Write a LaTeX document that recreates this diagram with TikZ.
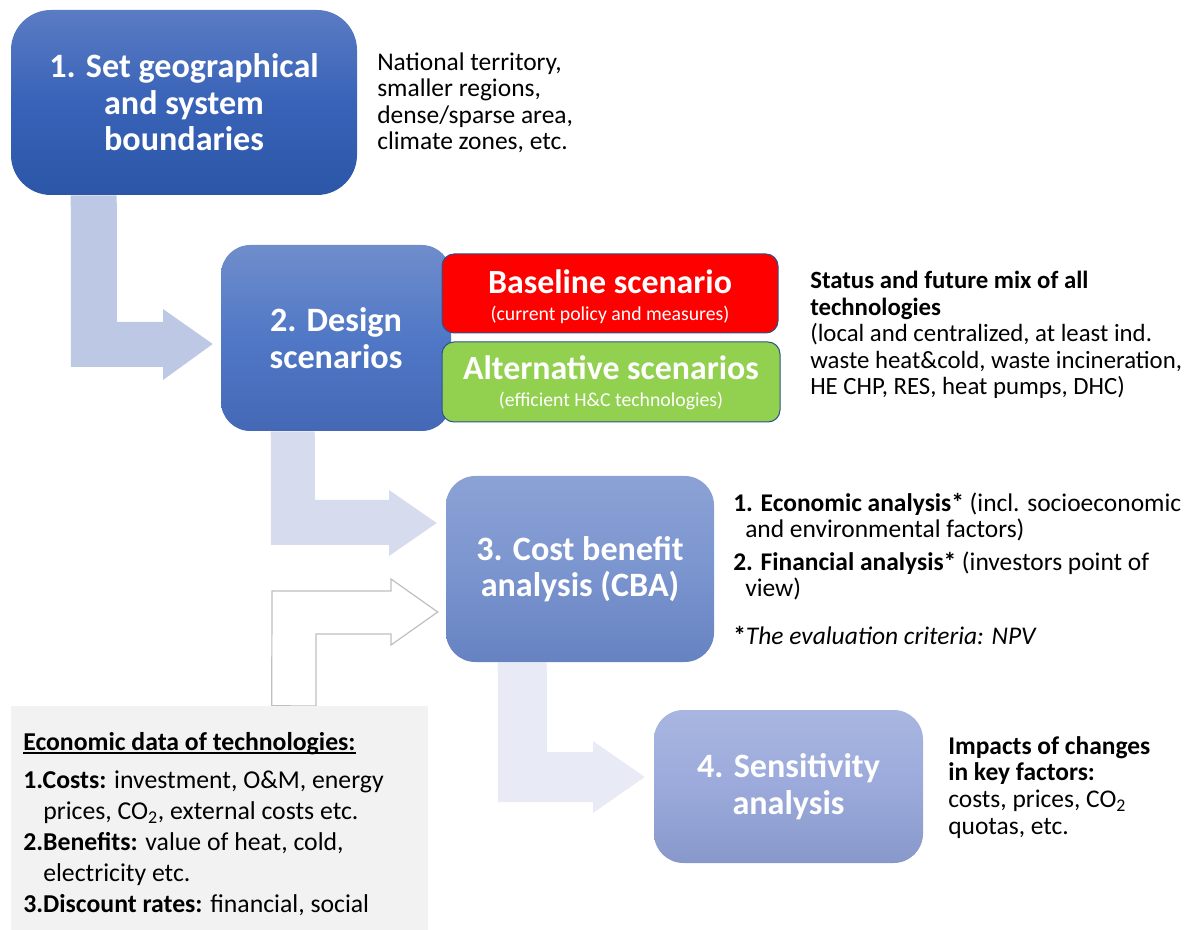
\documentclass[tikz,border=0pt]{standalone}
\usepackage{fontspec}
\setmainfont{Carlito}
\usetikzlibrary{fit,calc}

% step boxes: top / middle / bottom of the vertical gradient
\definecolor{oneTop}{HTML}{5B7BC3}
\definecolor{oneMid}{HTML}{3863B8}
\definecolor{oneBot}{HTML}{2C56A6}
\definecolor{twoTop}{HTML}{6F8DCB}
\definecolor{twoMid}{HTML}{5078C6}
\definecolor{twoBot}{HTML}{4468B6}
\definecolor{threeTop}{HTML}{8CA2D5}
\definecolor{threeMid}{HTML}{7B95CF}
\definecolor{threeBot}{HTML}{6682C1}
\definecolor{fourTop}{HTML}{A8B6E0}
\definecolor{fourMid}{HTML}{9BAADB}
\definecolor{fourBot}{HTML}{8898CA}
% block arrows
\definecolor{flowA}{HTML}{BDC8E4}
\definecolor{flowB}{HTML}{D6DCEE}
\definecolor{flowC}{HTML}{E8EBF5}
\definecolor{flowLine}{HTML}{BFBFBF}
% scenario boxes and data panel
\definecolor{baseRed}{HTML}{FF0000}
\definecolor{altGreen}{HTML}{92D050}
\definecolor{edgeBlue}{HTML}{2F528F}
\definecolor{panelGray}{HTML}{F2F2F2}

\pgfdeclarelayer{background}
\pgfsetlayers{background,main}

\newcommand\titlefont{\fontsize{25.6}{27.4}\selectfont\bfseries}
\newcommand\descfont{\fontsize{19.1}{19.9}\selectfont}
\newcommand\panelfont{\fontsize{19.3}{23.25}\selectfont}
% underline that sits just under the baseline
\newcommand\baseul[1]{\setbox0\hbox{#1}\rlap{\rule[-2.4pt]{\wd0}{0.9pt}}\box0}

\begin{document}
\begin{tikzpicture}[x=0.75pt,y=-0.75pt,
  stepbox/.style={inner sep=0pt, rounded corners=22pt},
  steptext/.style={inner sep=0pt, text=white, align=center, font=\titlefont},
  scenbox/.style={inner sep=0pt, rounded corners=9pt, draw=edgeBlue, line width=0.75pt},
  scentext/.style={inner sep=0pt, text=white, align=center,
                   font=\fontsize{25.4}{20}\selectfont\bfseries},
  desc/.style={inner sep=0pt, align=left, font=\descfont, anchor=base west},
  flowline/.style={draw=flowLine, line width=0.9pt, fill=white, line join=miter}]
\useasboundingbox (0,0) rectangle (1193,930);

% ---- step 1
\node[stepbox, rounded corners=30pt, fit={(11,10) (357,195)},
      top color=oneTop, bottom color=oneBot, middle color=oneMid] (b1) {};
\node[steptext] (t1) at (b1.center) {1. Set geographical\\and system\\boundaries};
\node[desc] (d1) at (377,150)
  {National territory,\\smaller regions,\\dense/sparse area,\\climate zones, etc.};

% ---- step 2 and the two scenario families
\node[stepbox, fit={(221,245) (451,431)},
      top color=twoTop, bottom color=twoBot, middle color=twoMid] (b2) {};
\node[steptext] (t2) at (b2.center) {2. Design\\scenarios};
\node[scenbox, fill=baseRed, fit={(442,254) (778,333)}] (base) {};
\node[scentext] (basetext) at ($(base.center)+(0,3)$)
  {Baseline scenario\\{\fontsize{14.8}{15}\selectfont\mdseries (current policy and measures)}};
\node[scenbox, fill=altGreen, fit={(442,342) (780,422)}] (alt) {};
\node[scentext] (alttext) at ($(alt.center)+(0,1)$)
  {Alternative scenarios\\{\fontsize{14.8}{15}\selectfont\mdseries (efficient H\&C technologies)}};
\node[desc, font=\fontsize{18.6}{19.9}\selectfont] (d2) at (810,395)
  {\textbf{Status and future mix of all}\\\textbf{technologies}\\(local and centralized, at least ind.\\waste heat\&cold, waste incineration,\\HE CHP, RES, heat pumps, DHC)};

% ---- step 3
\node[stepbox, fit={(446,476) (714,662)},
      top color=threeTop, bottom color=threeBot, middle color=threeMid] (b3) {};
\node[steptext] (t3) at (b3.center) {3. Cost benefit\\analysis (CBA)};
\node[desc] (d3) at (733,644)
  {\textbf{1. Economic analysis*} (incl. socioeconomic\\
   \hspace*{9pt}and environmental factors)\\[4.5pt]
   \textbf{2. Financial analysis*} (investors point of\\
   \hspace*{9pt}view)\\[15.5pt]
   \textbf{*}\textit{The evaluation criteria: NPV}};

% ---- step 4
\node[stepbox, fit={(654,710) (923,863)},
      top color=fourTop, bottom color=fourBot, middle color=fourMid] (b4) {};
\node[steptext] (t4) at (b4.center) {4. Sensitivity\\analysis};
\node[desc] (d4) at (948,834)
  {\textbf{Impacts of changes}\\\textbf{in key factors:}\\costs, prices, CO\textsubscript{2}\\quotas, etc.};

% ---- economic input data
\node[inner sep=0pt, fill=panelGray, fit={(11,706) (428,930)}] (eco) {};
\node[inner sep=0pt, align=left, font=\panelfont, anchor=base west] (ecotext) at (23,912)
  {\baseul{\textbf{Economic data of technologies:}}\\[5pt]
   \textbf{1.Costs:} investment, O\&M, energy\\
   \hspace*{15pt}prices, CO\textsubscript{2}, external costs etc.\\
   \textbf{2.Benefits:} value of heat, cold,\\
   \hspace*{15pt}electricity etc.\\
   \textbf{3.Discount rates:} financial, social};

% ---- bent block arrows between the steps
\begin{pgfonlayer}{background}
\fill[flowA] ($(b1.south west)+(60,0)$) -- ++(46,0) -- (117,322) -- (163,322)
  -- (163,309) -- ($(b2.west)+(-8,6)$) -- (163,380) -- (163,367) -- (71,367) -- cycle;
\fill[flowB] ($(b2.south west)+(50,0)$) -- ++(44,0) -- (315,500) -- (389,500)
  -- (389,490) -- ($(b3.west)+(-9,-46)$) -- (389,556) -- (389,545) -- (271,545) -- cycle;
\path[flowline] ($(eco.north west)+(261,0)$) -- (272,591) -- (391,591) -- (391,579)
  -- ($(b3.west)+(-8,43)$) -- (391,645) -- (391,634) -- (316,634) -- (316,706) -- cycle;
\fill[flowC] ($(b3.south west)+(52,0)$) -- ++(49,0) -- (547,752) -- (593,752)
  -- (593,741) -- ($(b4.west)+(-9,-9.5)$) -- (593,813) -- (593,802) -- (498,802) -- cycle;
\end{pgfonlayer}
\end{tikzpicture}
\end{document}
